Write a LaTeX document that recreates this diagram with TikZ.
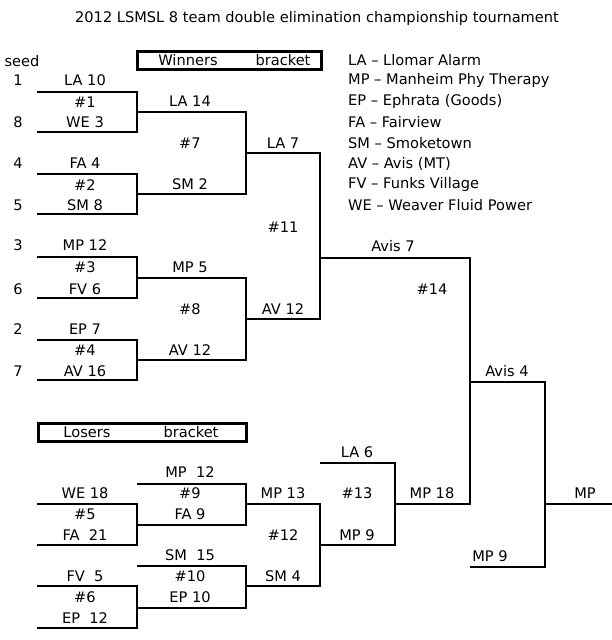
\documentclass[tikz,border=0pt]{standalone}
\usepackage{fontspec}
\setmainfont{DejaVu Sans}
\begin{document}
\begin{tikzpicture}[x=1pt,y=-1pt,
  br/.style={line width=1.5pt},
  bx/.style={draw,line width=3pt,minimum width=#1,minimum height=18pt,inner sep=0pt},
  t/.style={font=\fontsize{14.6}{16}\selectfont,inner sep=0pt},
  lg/.style={t,anchor=west}]
\useasboundingbox (0,0) rectangle (612,640);
\node[t] (title) at (317,18) {2012 LSMSL 8 team double elimination championship tournament};
\node[t] (seed) at (22,61) {seed};
\node[bx=184pt] (wb) at (229,60) {};
\node[t] (wb1) at (188,60) {Winners};
\node[t] (wb2) at (283,60) {bracket};
\node[bx=208pt] (lb) at (142,432) {};
\node[t] (lb1) at (87,432) {Losers};
\node[t] (lb2) at (191,432) {bracket};
% legend
\foreach \y/\s [count=\i] in {60/LA -- Llomar Alarm,80/MP -- Manheim Phy Therapy,101/EP -- Ephrata (Goods),122/FA -- Fairview,143/SM -- Smoketown,164/AV -- Avis (MT),184/FV -- Funks Village,205/WE -- Weaver Fluid Power}
  \node[lg] (lg\i) at (348,\y) {\s};
% seeds
\foreach \y/\s [count=\i] in {80/1,122/8,163/4,205/5,245/3,289/6,329/2,371/7}
  \node[t] (s\i) at (18,\y) {\s};
% round 1
\draw[br] (37,92) -- (137,92) -- (137,132) -- (37,132);
\draw[br] (37,174) -- (137,174) -- (137,214) -- (37,214);
\draw[br] (37,257) -- (137,257) -- (137,298) -- (37,298);
\draw[br] (37,340) -- (137,340) -- (137,380) -- (37,380);
\foreach \y/\s [count=\i] in {80/LA 10,102/\#1,122/WE 3,163/FA 4,185/\#2,205/SM 8,245/MP 12,267/\#3,289/FV 6,329/EP 7,350/\#4,371/AV 16,493/WE 18,514/\#5,535/FA\ \ 21,576/FV\ \ 5,597/\#6,618/EP\ \ 12}
  \node[t] (a\i) at (85,\y) {\s};
% round 2
\draw[br] (137,112) -- (246,112) -- (246,194) -- (137,194);
\draw[br] (137,278) -- (246,278) -- (246,360) -- (137,360);
\draw[br] (137,484) -- (246,484) -- (246,525) -- (137,525);
\draw[br] (137,566) -- (246,566) -- (246,608) -- (137,608);
\draw[br] (37,504) -- (137,504) -- (137,545) -- (37,545);
\draw[br] (37,586) -- (137,586) -- (137,628) -- (37,628);
\foreach \y/\s [count=\i] in {101/LA 14,143/\#7,184/SM 2,267/MP 5,309/\#8,350/AV 12,472/MP\ \ 12,493/\#9,514/FA 9,555/SM\ \ 15,576/\#10,597/EP 10}
  \node[t] (b\i) at (190,\y) {\s};
% round 3
\draw[br] (246,153) -- (320,153) -- (320,319) -- (246,319);
\draw[br] (246,504) -- (320,504) -- (320,586) -- (246,586);
\foreach \y/\s [count=\i] in {143/LA 7,227/\#11,309/AV 12,493/MP 13,535/\#12,576/SM 4}
  \node[t] (c\i) at (283,\y) {\s};
\draw[br] (320,463) -- (395,463) -- (395,545) -- (320,545);
\foreach \y/\s [count=\i] in {452/LA 6,493/\#13,535/MP 9}
  \node[t] (d\i) at (357,\y) {\s};
% finals
\draw[br] (320,258) -- (470,258) -- (470,504) -- (395,504);
\node[t] (e1) at (393,246) {Avis 7};
\node[t] (e2) at (432,289) {\#14};
\node[t] (e3) at (432,493) {MP 18};
\draw[br] (470,382) -- (545,382) -- (545,567) -- (470,567);
\node[t] (f1) at (507,371) {Avis 4};
\node[t] (f2) at (490,556) {MP 9};
\draw[br] (545,504) -- (612,504);
\node[t] (g1) at (585,493) {MP};
\end{tikzpicture}
\end{document}
